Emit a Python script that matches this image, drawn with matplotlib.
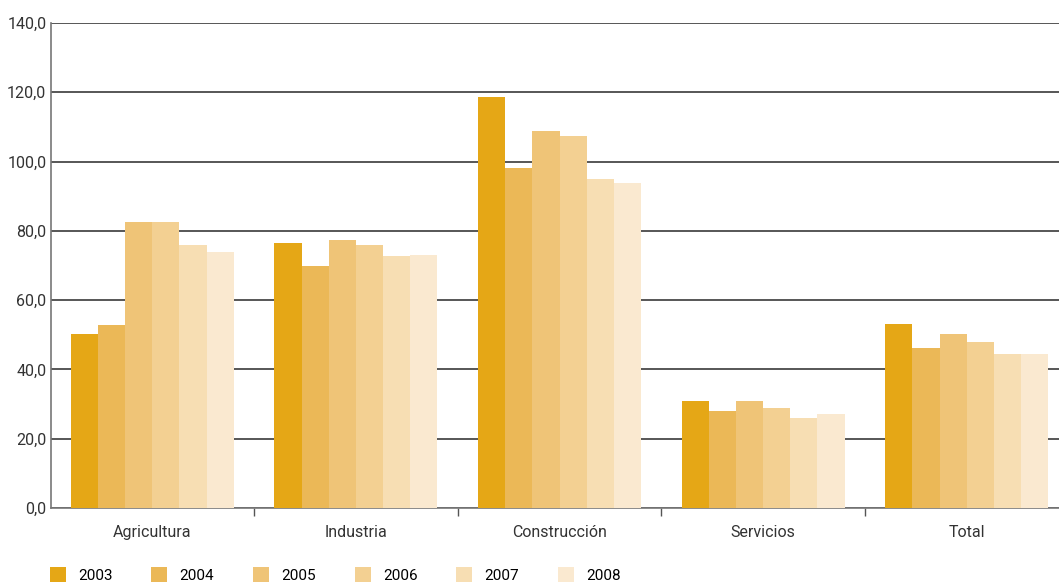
import matplotlib
matplotlib.use("Agg")
import matplotlib.pyplot as plt
import numpy as np
from matplotlib.ticker import FuncFormatter, FixedLocator

categories = ["Agricultura", "Industria", "Construcción", "Servicios", "Total"]
years = ["2003", "2004", "2005", "2006", "2007", "2008"]
values = {
    "2003": [50.3, 76.6, 118.7, 30.8, 53.1],
    "2004": [52.8, 70.0, 98.1, 27.9, 46.2],
    "2005": [82.7, 77.5, 108.8, 30.8, 50.2],
    "2006": [82.7, 76.0, 107.3, 28.8, 47.9],
    "2007": [76.0, 72.8, 94.9, 25.9, 44.5],
    "2008": [74.0, 73.1, 93.7, 27.1, 44.5],
}
colors = ["#E5A716", "#EBB857", "#EFC477", "#F3D092", "#F7DEB3", "#FAE9D0"]

plt.rcParams['font.family'] = ['Roboto', 'DejaVu Sans']

fig = plt.figure(figsize=(10.59, 5.82), dpi=100)
W, H = 1059, 582
ax = fig.add_axes([50.5 / W, 1 - 508 / H, 1018 / W, (508 - 23) / H])

x = np.arange(len(categories))
bw = 0.8 / len(years)
handles = []
for i, y in enumerate(years):
    b = ax.bar(x - 0.4 + bw * (i + 0.5), values[y], width=bw, color=colors[i],
               label=y, zorder=3, linewidth=0)
    handles.append(b)

ax.set_xlim(-0.5, len(categories) - 0.5)
ax.set_ylim(0, 140)
ax.set_yticks(np.arange(0, 141, 20))
ax.yaxis.set_major_formatter(FuncFormatter(lambda v, p: f"{v:.1f}".replace(".", ",")))
ax.grid(axis='y', color='#3a3a3a', linewidth=1.2, zorder=0)
ax.tick_params(axis='y', length=0, pad=3, labelsize=11.5, colors='#333333')

ax.set_xticks(x)
ax.set_xticklabels(categories, fontsize=11.5, color='#333333')
ax.tick_params(axis='x', which='major', length=0, pad=12)
ax.xaxis.set_minor_locator(FixedLocator(np.arange(0.5, len(categories) - 1, 1.0)))
ax.tick_params(axis='x', which='minor', length=6, width=1, color='#555555', direction='out')

for s in ['top', 'right']:
    ax.spines[s].set_visible(False)
for s in ['left', 'bottom']:
    ax.spines[s].set_color('#777777')
    ax.spines[s].set_linewidth(1.2)

fig.legend(handles=handles, labels=years, loc='center left',
           bbox_to_anchor=(50 / W, 1 - 575 / H), ncol=6, frameon=False,
           fontsize=11, handlelength=1.05, handleheight=1.05, handletextpad=0.8,
           columnspacing=2.53, borderaxespad=0, borderpad=0)

fig.savefig("out.png", dpi=100)
